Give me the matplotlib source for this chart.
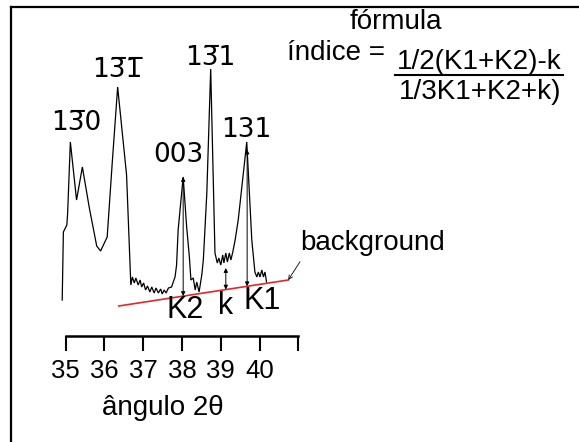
import numpy as np
import matplotlib
matplotlib.use("Agg")
import matplotlib.pyplot as plt
from matplotlib.lines import Line2D

# ---------------- data ----------------
two_theta = [34.91, 34.94, 35.03, 35.05, 35.12, 35.28, 35.43, 35.61, 35.80, 35.90,
             36.07, 36.20, 36.34, 36.57, 36.68, 36.72, 36.77, 36.81, 36.87, 36.92,
             36.96, 37.01, 37.06, 37.11, 37.17, 37.22, 37.28, 37.33, 37.39, 37.45,
             37.49, 37.54, 37.59, 37.65, 37.73, 37.82, 37.86, 37.90, 38.03, 38.12,
             38.19, 38.23, 38.29, 38.34, 38.38, 38.44, 38.51, 38.55, 38.64, 38.74,
             38.85, 38.91, 38.95, 39.00, 39.05, 39.08, 39.13, 39.17, 39.22, 39.26,
             39.31, 39.37, 39.45, 39.67, 39.80, 39.88, 39.93, 39.97, 40.01, 40.06,
             40.10, 40.14, 40.18]
intensity = [142, 210, 217, 229, 300, 242, 275, 234, 196, 191,
             205, 279, 355, 267, 157, 165, 159, 164, 157, 162,
             155, 159, 152, 156, 150, 155, 149, 154, 149, 153,
             148, 152, 149, 154, 155, 165, 177, 212, 265, 215,
             185, 162, 164, 152, 160, 150, 167, 182, 249, 373,
             189, 179, 184, 177, 187, 179, 189, 180, 189, 182,
             190, 202, 222, 300, 202, 170, 165, 170, 165, 172,
             165, 170, 160]

baseline_x = [36.37, 40.74]
baseline_y = [136, 162]

OL = "\u0305"  # combining overline
peak_labels = ["13" + OL + "0", "13" + OL + "1" + OL, "003", "13" + OL + "1", "131"]
peak_label_pos = [(76, 130), (117, 77), (178, 162), (210, 65), (246.5, 137)]  # px, baseline

K2_pos, k_pos, K1_pos = 38.03, 39.13, 39.68
k_top = 174

tick_values = [35, 36, 37, 38, 39, 40, 41]
tick_labels = ["35", "36", "37", "38", "39", "40", ""]

# ---------------- figure ----------------
W, H = 579, 442
fig = plt.figure(figsize=(W / 100, H / 100), dpi=100)
ax = fig.add_axes([0, 0, 1, 1])
ax.patch.set_alpha(0)

px_per_deg = 38.77
x0 = 35 - 65.7 / px_per_deg
ax.set_xlim(x0, x0 + W / px_per_deg)
ax.set_ylim(0, H)

def fp(x, y):
    return (x / W, 1 - y / H)

SANS = ["Liberation Sans", "DejaVu Sans"]

# pattern
ax.plot(two_theta, intensity, color="black", lw=0.9, solid_joinstyle="miter")
# baseline
ax.plot(baseline_x, baseline_y, color="#e3262a", lw=1.2)

# arrows
def base_at(x):
    return np.interp(x, baseline_x, baseline_y)

tt = np.array(two_theta)
ii = np.array(intensity)
K2_top = np.interp(K2_pos, tt, ii)
K1_top = np.interp(K1_pos, tt, ii)
for xpos, top in [(K2_pos, K2_top), (k_pos, k_top), (K1_pos, K1_top)]:
    ax.annotate("", xy=(xpos, top), xytext=(xpos, base_at(xpos)),
                arrowprops=dict(arrowstyle="<|-|>", lw=0.7, color="black",
                                mutation_scale=6, shrinkA=0, shrinkB=0))

# background pointer
ax.annotate("", xy=(baseline_x[1], baseline_y[1]), xycoords="data",
            xytext=fp(300, 261.7), textcoords="figure fraction",
            arrowprops=dict(arrowstyle="->", lw=0.6, color="black",
                            mutation_scale=7, shrinkA=0, shrinkB=0))
fig.text(*fp(300, 243), "background", family=SANS, fontsize=20,
         ha="left", va="center")

# peak labels
for lab, (x, y) in zip(peak_labels, peak_label_pos):
    fig.text(*fp(x, y), lab, family=["DejaVu Sans"], fontsize=19,
             ha="center", va="baseline")

# K labels
fig.text(*fp(185, 310), "K2", family=SANS, fontsize=22, ha="center", va="center")
fig.text(*fp(226, 306), "k", family=SANS, fontsize=22, ha="center", va="center")
fig.text(*fp(262, 301), "K1", family=SANS, fontsize=22, ha="center", va="center")

# formula
fig.text(*fp(395.5, 22), "fórmula", family=SANS, fontsize=20, ha="center", va="center")
fig.text(*fp(336, 53), "índice =", family=SANS, fontsize=20, ha="center", va="center")
fig.text(*fp(479.5, 62), "1/2(K1+K2)-k", family=SANS, fontsize=20, ha="center", va="center")
fig.text(*fp(480, 92), "1/3K1+K2+k)", family=SANS, fontsize=20, ha="center", va="center")
fig.add_artist(Line2D([395 / W, 563 / W], [1 - 75 / H, 1 - 75 / H],
                      transform=fig.transFigure, color="black", lw=1.5))

# x axis
for s in ["top", "left", "right"]:
    ax.spines[s].set_visible(False)
ax.spines["bottom"].set_position(("data", H - 336))
ax.spines["bottom"].set_bounds(35, 41)
ax.spines["bottom"].set_linewidth(1.8)
ax.set_xticks(tick_values)
ax.set_xticklabels(tick_labels, family=SANS, fontsize=18.5)
ax.tick_params(axis="x", direction="out", length=10.8, width=1.5, pad=6)
ax.set_yticks([])
fig.text(*fp(163, 408), "ângulo 2θ", family=SANS, fontsize=20, ha="center", va="center")

# frame (top and left)
fig.add_artist(Line2D([11 / W, 1], [1 - 7 / H, 1 - 7 / H], transform=fig.transFigure,
                      color="black", lw=1.6))
fig.add_artist(Line2D([11 / W, 11 / W], [0, 1 - 7 / H], transform=fig.transFigure,
                      color="black", lw=1.6))

fig.savefig("out.png", dpi=100)
